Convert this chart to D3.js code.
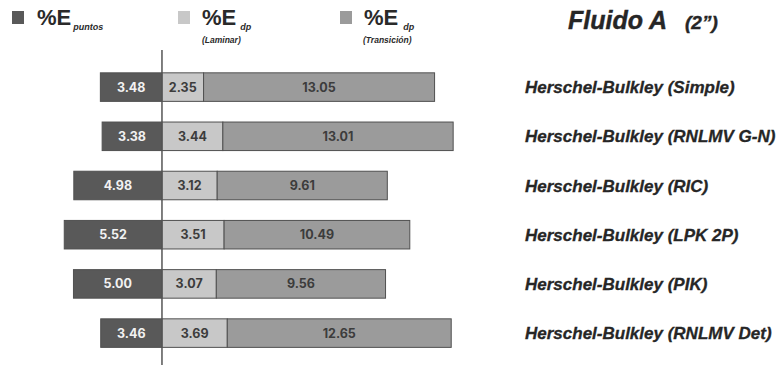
<!DOCTYPE html>
<html>
<head>
<meta charset="utf-8">
<script src="https://cdn.jsdelivr.net/npm/d3@7"></script>
<style>
  html, body { margin: 0; padding: 0; background: #fff; }
  svg { display: block; }
</style>
</head>
<body>
<svg id="chart" width="781" height="366"></svg>
<script>
// ---- data ----
const categories = [
  "Herschel-Bulkley (Simple)",
  "Herschel-Bulkley (RNLMV G-N)",
  "Herschel-Bulkley (RIC)",
  "Herschel-Bulkley (LPK 2P)",
  "Herschel-Bulkley (PIK)",
  "Herschel-Bulkley (RNLMV Det)"
];
const ePuntos      = [3.48, 3.38, 4.98, 5.52, 5.00, 3.46];
const eLaminar     = [2.35, 3.44, 3.12, 3.51, 3.07, 3.69];
const eTransicion  = [13.05, 13.01, 9.61, 10.49, 9.56, 12.65];
const valueLabels  = {
  puntos: ["3.48", "3.38", "4.98", "5.52", "5.00", "3.46"],
  laminar: ["2.35", "3.44", "3.12", "3.51", "3.07", "3.69"],
  transicion: ["13.05", "13.01", "9.61", "10.49", "9.56", "12.65"]
};
const title = "Fluido A";
const subtitle = "(2\u201D)";

// ---- setup ----
const svg = d3.select("#chart");
const colors = { puntos: "#595959", laminar: "#c8c8c8", transicion: "#9b9b9b" };
const strokeCol = "#505050";

const x = d3.scaleLinear().domain([-9.15, 20]).range([0, 516]);
const y = d3.scaleBand().domain(categories).range([62.5, 357.7])
  .paddingInner(0.42).paddingOuter(0.21);

const rows = categories.map((c, i) => ({
  cat: c, i,
  segs: [
    { key: "puntos", x0: -ePuntos[i], x1: 0, label: valueLabels.puntos[i], tc: "#f2f2f2" },
    { key: "laminar", x0: 0, x1: eLaminar[i], label: valueLabels.laminar[i], tc: "#3c3c3c" },
    { key: "transicion", x0: eLaminar[i], x1: eLaminar[i] + eTransicion[i], label: valueLabels.transicion[i], tc: "#3c3c3c" }
  ]
}));

const g = svg.append("g");
const rowG = g.selectAll("g.row").data(rows).join("g").attr("class", "row")
  .attr("transform", d => `translate(0,${y(d.cat)})`);

rowG.selectAll("rect").data(d => d.segs).join("rect")
  .attr("x", d => x(d.x0))
  .attr("width", d => x(d.x1) - x(d.x0))
  .attr("y", 0)
  .attr("height", y.bandwidth())
  .attr("fill", d => colors[d.key])
  .attr("stroke", strokeCol)
  .attr("stroke-width", 1);

rowG.selectAll("text.val").data(d => d.segs).join("text").attr("class", "val")
  .attr("x", d => (x(d.x0) + x(d.x1)) / 2)
  .attr("y", y.bandwidth() / 2)
  .attr("dy", "0.36em")
  .attr("text-anchor", "middle")
  .attr("font-family", "Inter, 'DejaVu Sans', sans-serif")
  .attr("font-weight", 700)
  .attr("font-size", 12.5)
  .attr("fill", d => d.tc)
  .text(d => d.label);

// zero axis line
const axis = d3.axisLeft(y).tickSize(0).tickFormat("");
const axG = svg.append("g").attr("transform", `translate(${x(0)},0)`).call(axis);
axG.select(".domain").attr("d", `M0,50V365`).attr("stroke", "#555").attr("stroke-width", 1.5);

// category labels
svg.append("g").selectAll("text").data(categories).join("text")
  .attr("x", 525)
  .attr("y", d => y(d) + y.bandwidth() / 2)
  .attr("dy", "0.36em")
  .attr("font-family", "'Liberation Sans', Arial, sans-serif")
  .attr("font-weight", 700)
  .attr("font-style", "italic")
  .attr("font-size", 17)
  .attr("fill", "#262626")
  .attr("stroke", "#262626")
  .attr("stroke-width", 0.3)
  .text(d => d);

// title
const t = svg.append("text").attr("x", 568).attr("y", 29)
  .attr("font-family", "'Liberation Sans', Arial, sans-serif")
  .attr("font-weight", 700).attr("font-style", "italic").attr("fill", "#262626")
  .attr("stroke", "#262626").attr("stroke-width", 0.4);
t.append("tspan").attr("font-size", 25).text(title);
t.append("tspan").attr("x", 685).attr("font-size", 19).text(subtitle);

// legend
const legend = [
  { key: "puntos", sx: 12, tx: 37, sub: "puntos", subDx: 2, note: null },
  { key: "laminar", sx: 178, tx: 202, sub: "dp", subDx: 4, note: "(Laminar)" },
  { key: "transicion", sx: 340, tx: 364, sub: "dp", subDx: 5, note: "(Transición)" }
];
const lg = svg.append("g").selectAll("g").data(legend).join("g");
lg.append("rect").attr("x", d => d.sx).attr("y", 11).attr("width", 12).attr("height", 13)
  .attr("fill", d => colors[d.key]);
const lt = lg.append("text").attr("x", d => d.tx).attr("y", 25)
  .attr("font-family", "'Liberation Sans', Arial, sans-serif")
  .attr("font-weight", 700).attr("fill", "#2a2a2a");
lt.append("tspan").attr("font-size", 22).text("%E");
lt.append("tspan").attr("dx", d => d.subDx).attr("dy", 5).attr("font-size", 9)
  .attr("font-style", "italic").text(d => d.sub);
lg.filter(d => d.note).append("text")
  .attr("x", d => d.tx + (d.key === "laminar" ? 0 : -1)).attr("y", 43)
  .attr("font-family", "'Liberation Sans', Arial, sans-serif")
  .attr("font-weight", 700).attr("font-style", "italic")
  .attr("font-size", 8.5).attr("fill", "#2a2a2a")
  .text(d => d.note);
</script>
</body>
</html>
